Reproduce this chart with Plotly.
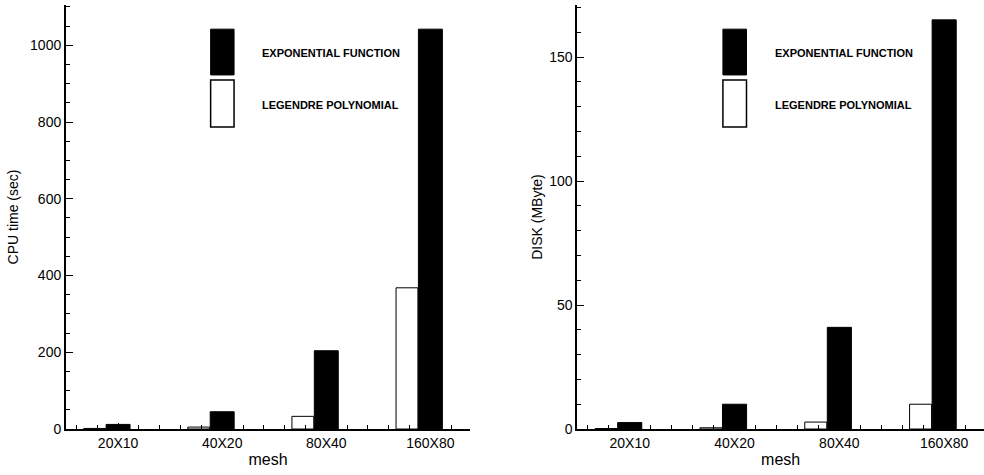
import plotly.graph_objects as go

categories = ["20X10", "40X20", "80X40", "160X80"]
cpu_exponential = [12, 45, 204, 1042]
cpu_legendre = [1.5, 5, 33, 368]
disk_exponential = [2.6, 10, 41, 165]
disk_legendre = [0.2, 0.5, 2.8, 10]
legend_names = ["EXPONENTIAL FUNCTION", "LEGENDRE POLYNOMIAL"]

xpos = list(range(len(categories)))
FONT = "Liberation Sans, Arial, sans-serif"

fig = go.Figure()

def add_panel(exp_vals, leg_vals, xa, ya):
    fig.add_trace(go.Bar(x=xpos, y=leg_vals, width=0.21, offset=-0.33,
                         marker=dict(color="white", line=dict(color="black", width=1)),
                         xaxis=xa, yaxis=ya, showlegend=False, name=legend_names[1]))
    fig.add_trace(go.Bar(x=xpos, y=exp_vals, width=0.23, offset=-0.115,
                         marker=dict(color="black", line=dict(color="black", width=1)),
                         xaxis=xa, yaxis=ya, showlegend=False, name=legend_names[0]))

add_panel(cpu_exponential, cpu_legendre, "x", "y")
add_panel(disk_exponential, disk_legendre, "x2", "y2")

xcommon = dict(range=[-0.5, 3.38], tickvals=xpos, ticktext=categories,
               ticks="inside", ticklen=6, tickwidth=1, tickcolor="black",
               minor=dict(dtick=0.2, tick0=0, ticks="inside", ticklen=4, tickcolor="black"),
               showline=True, linecolor="black", linewidth=2, showgrid=False, zeroline=False,
               tickfont=dict(family=FONT, size=14, color="black"),
               title=dict(text="mesh", font=dict(family=FONT, size=16, color="black"), standoff=4),
               automargin=False)

def ycommon(rng, vals, minor_dt, title, standoff):
    return dict(domain=[0.0968, 0.9895], range=rng, tickvals=vals,
                ticks="inside", ticklen=7, tickcolor="black",
                minor=dict(dtick=minor_dt, ticks="inside", ticklen=4, tickcolor="black"),
                showline=True, linecolor="black", linewidth=2, showgrid=False, zeroline=False,
                tickfont=dict(family=FONT, size=14, color="black"),
                title=dict(text=title, font=dict(family=FONT, size=14, color="black"), standoff=standoff),
                automargin=False)

fig.update_layout(
    width=984, height=475,
    margin=dict(l=0, r=0, t=0, b=0),
    plot_bgcolor="white", paper_bgcolor="white",
    barmode="overlay",
    xaxis=dict(domain=[0.0671, 0.4776], anchor="y", **xcommon),
    xaxis2=dict(domain=[0.5867, 1.0], anchor="y2", **xcommon),
    yaxis=dict(anchor="x", **ycommon([0, 1105], [0, 200, 400, 600, 800, 1000], 50, "CPU time (sec)", 8)),
    yaxis2=dict(anchor="x2", **ycommon([0, 171], [0, 50, 100, 150], 10, "DISK (MByte)", 3)),
)

# legend drawn as boxes + labels in each panel
for xa, ya in [("x", "y"), ("x2", "y2")]:
    fig.add_shape(type="rect", xref=f"{xa} domain", yref=f"{ya} domain",
                  x0=0.358, x1=0.416, y0=0.835, y1=0.943,
                  fillcolor="black", line=dict(color="black", width=1))
    fig.add_shape(type="rect", xref=f"{xa} domain", yref=f"{ya} domain",
                  x0=0.358, x1=0.416, y0=0.712, y1=0.823,
                  fillcolor="white", line=dict(color="black", width=1.5))
    fig.add_annotation(xref=f"{xa} domain", yref=f"{ya} domain", x=0.48, y=0.887,
                       text=legend_names[0], showarrow=False, xanchor="left", yanchor="middle",
                       font=dict(family=FONT, size=11, color="black", weight="bold"))
    fig.add_annotation(xref=f"{xa} domain", yref=f"{ya} domain", x=0.48, y=0.764,
                       text=legend_names[1], showarrow=False, xanchor="left", yanchor="middle",
                       font=dict(family=FONT, size=11, color="black", weight="bold"))

fig.write_html("out.html")
